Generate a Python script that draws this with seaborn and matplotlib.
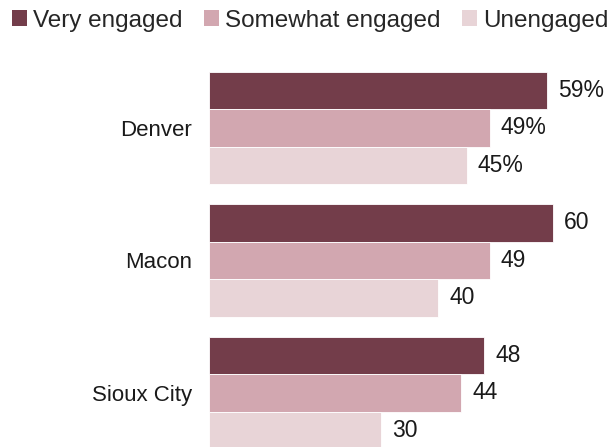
import pandas as pd
import numpy as np
import matplotlib.pyplot as plt
import seaborn as sns
from matplotlib.patches import Patch

# data
cities = ["Denver", "Macon", "Sioux City"]
levels = ["Very engaged", "Somewhat engaged", "Unengaged"]
very_engaged = [59, 60, 48]
somewhat_engaged = [49, 49, 44]
unengaged = [45, 40, 30]

colors = ["#733d4a", "#d2a7b0", "#e8d4d7"]

df = pd.DataFrame({
    "city": cities * 3,
    "level": np.repeat(levels, len(cities)),
    "share": very_engaged + somewhat_engaged + unengaged,
})

sns.set_style("white")
plt.rcParams["font.family"] = ["Liberation Sans", "DejaVu Sans"]

fig = plt.figure(figsize=(6.15, 4.47), dpi=100)
# axes placed so the bars start at x=209 px and run off the bottom edge
ax = fig.add_axes([209 / 615, 0, (615 - 209) / 615, (447 - 60) / 447])

sns.barplot(data=df, y="city", x="share", hue="level", hue_order=levels,
            order=cities, palette=colors, saturation=1, width=0.85,
            orient="h", edgecolor="white", linewidth=0.6, legend=False, ax=ax)

ax.set_xlim(0, (615 - 209) / 5.73)
ax.set_ylim(2.408, -0.513)

# value labels, first row with percent signs
for cont, vals in zip(ax.containers, [very_engaged, somewhat_engaged, unengaged]):
    labels = [f"{v}%" if i == 0 else f"{v}" for i, v in enumerate(vals)]
    ax.bar_label(cont, labels=labels, padding=8, fontsize=16.5, color="#1a1a1a")

sns.despine(ax=ax, left=True, bottom=True)
ax.set_xticks([])
ax.set_xlabel("")
ax.set_ylabel("")
ax.tick_params(axis="y", length=0, pad=12, labelsize=16, labelcolor="#1a1a1a")

handles = [Patch(facecolor=c, edgecolor="none") for c in colors]
fig.legend(handles, levels, loc="upper left", bbox_to_anchor=(0.004, 1.0),
           ncol=3, frameon=False, fontsize=17.5, handlelength=0.6,
           handleheight=0.6, handletextpad=0.25, columnspacing=0.9,
           borderaxespad=0)

fig.savefig("out.png", dpi=100)
